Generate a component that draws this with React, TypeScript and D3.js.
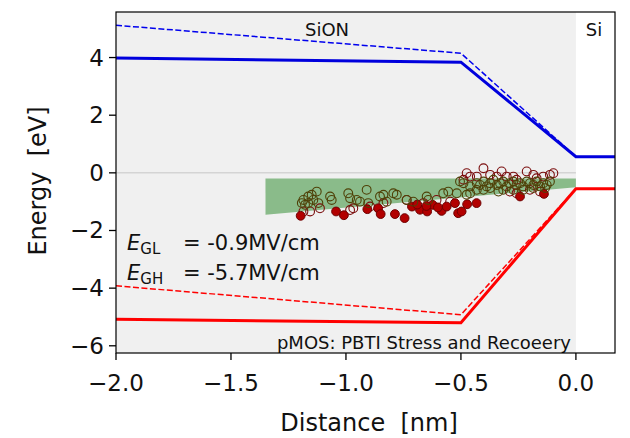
import React from "react";
import * as d3 from "d3";

const xTicks = [-2.0, -1.5, -1.0, -0.5, 0.0];
const yTicks = [4, 2, 0, -2, -4, -6];

// band-edge lines [x, energy]
const cbSolid: [number, number][] = [[-2, 3.98], [-0.5, 3.84], [0, 0.56], [0.17, 0.56]];
const cbDashed: [number, number][] = [[-2, 5.12], [-0.5, 4.15], [0, 0.56]];
const vbSolid: [number, number][] = [[-2, -5.08], [-0.5, -5.2], [0, -0.55], [0.17, -0.55]];
const vbDashed: [number, number][] = [[-2, -3.92], [-0.5, -4.92], [0, -0.55]];

// green trap band polygon
const bandX = [-1.35, 0, 0, -1.35];
const bandY = [-0.2, -0.2, -0.5, -1.45];

// open circles, maroon edge
const maroonX = [-0.475, -0.46, -0.402, -0.373, -0.344, -0.323, -0.301, -0.272, -0.258, -0.214, -0.185, -0.171, -0.142, -0.113, -0.098, -0.489, -0.431, -1.185, -1.156, -1.113, -0.982, -0.968, -0.895, -0.837, -0.736, -0.663, -0.606, -0.547, -0.287, -0.258, -0.2, -0.156];
const maroonY = [-0.01, -0.13, 0.16, -0.07, -0.13, 0.05, -0.13, -0.13, -0.24, 0.05, -0.07, -0.19, -0.13, -0.07, -0.01, -0.24, -0.13, -1.34, -1.34, -1.23, -1.29, -1.23, -1.17, -1.05, -0.94, -1.05, -0.94, -1.0, -0.65, -0.71, -0.59, -0.65];

// filled red circles
const redX = [-1.197, -1.043, -1.009, -0.907, -0.86, -0.849, -0.787, -0.745, -0.713, -0.678, -0.647, -0.623, -0.584, -0.562, -0.526, -0.512, -0.497, -0.473, -0.432, -0.243, -0.139, -0.69, -0.6, -0.65];
const redY = [-1.49, -1.34, -1.47, -1.26, -1.23, -1.43, -1.43, -1.57, -1.17, -1.28, -1.34, -1.11, -1.32, -1.17, -1.05, -1.4, -1.34, -1.09, -1.05, -0.82, -0.73, -1.1, -1.2, -1.15];

// open circles, olive edge
const oliveX = [-1.185, -1.178, -1.164, -1.149, -1.142, -1.127, -1.12, -1.164, -1.192, -1.069, -1.062, -0.99, -0.982, -0.953, -0.939, -0.91, -0.903, -0.852, -0.837, -0.823, -0.794, -0.779, -0.736, -0.707, -0.649, -0.642, -0.577, -0.555, -0.518, -0.489, -0.475, -0.46, -0.431, -0.417, -0.402, -0.388, -0.373, -0.359, -0.344, -0.33, -0.316, -0.301, -0.287, -0.272, -0.258, -0.243, -0.229, -0.214, -0.2, -0.185, -0.171, -0.156, -0.142, -0.127, -0.113, -0.46, -0.431, -0.402, -0.373, -0.337, -0.316, -0.272, -0.229, -0.185, -0.134, -0.504];
const oliveY = [-0.94, -1.11, -0.82, -0.76, -0.94, -0.65, -1.05, -1.05, -1.05, -0.82, -0.94, -0.71, -0.88, -0.94, -1.0, -0.59, -1.05, -0.82, -0.76, -1.0, -0.71, -0.76, -0.94, -1.0, -0.82, -0.94, -0.71, -0.65, -0.71, -0.36, -0.76, -0.71, -0.36, -0.42, -0.3, -0.47, -0.36, -0.24, -0.42, -0.36, -0.3, -0.47, -0.36, -0.3, -0.42, -0.36, -0.47, -0.3, -0.36, -0.42, -0.3, -0.47, -0.36, -0.42, -0.3, -0.47, -0.59, -0.59, -0.53, -0.65, -0.59, -0.59, -0.59, -0.53, -0.53, -0.3];

const W = 630, H = 438;
const L = 116, R = 615, T = 12, B = 353;
const FONT = "DejaVu Sans, sans-serif";

export default function App() {
  const x = d3.scaleLinear().domain([-2, 0.17]).range([L, R]);
  const y = d3.scaleLinear().domain([-6.25, 5.58]).range([B, T]);
  const line = d3.line<[number, number]>().x(d => x(d[0])).y(d => y(d[1]));
  const band = bandX.map((v, i) => [v, bandY[i]] as [number, number]);

  return (
    <svg width={W} height={H} style={{ position: "absolute", left: 0, top: 0, background: "#fff" }} fontFamily={FONT}>
      <defs>
        <clipPath id="clip"><rect x={L} y={T} width={R - L} height={B - T} /></clipPath>
      </defs>
      <g clipPath="url(#clip)">
        <rect x={x(-2)} y={T} width={x(0) - x(-2)} height={B - T} fill="#f0f0f0" />
        <line x1={x(-2)} x2={x(0)} y1={y(0)} y2={y(0)} stroke="#d4d4d4" strokeWidth={1.5} />
        <path d={line(band) + "Z"} fill="#8abb8a" />
        <path d={line(cbDashed)!} fill="none" stroke="#0000ee" strokeWidth={1.5} strokeDasharray="6,2.5" />
        <path d={line(cbSolid)!} fill="none" stroke="#0000dd" strokeWidth={3} />
        <path d={line(vbDashed)!} fill="none" stroke="#ff0000" strokeWidth={1.5} strokeDasharray="6,2.5" />
        <path d={line(vbSolid)!} fill="none" stroke="#ff0000" strokeWidth={3} />
        {maroonX.map((v, i) => (
          <circle key={"m" + i} cx={x(v)} cy={y(maroonY[i])} r={4.4} fill="none" stroke="#7a0c0c" strokeWidth={1.1} />
        ))}
        {redX.map((v, i) => (
          <circle key={"r" + i} cx={x(v)} cy={y(redY[i])} r={4.4} fill="#b20000" stroke="#6e0000" strokeWidth={1} />
        ))}
        {oliveX.map((v, i) => (
          <circle key={"o" + i} cx={x(v)} cy={y(oliveY[i])} r={4.4} fill="none" stroke="#4f4108" strokeWidth={1.1} />
        ))}
      </g>
      <text x={327} y={36} fontSize={18} textAnchor="middle" fill="#111">SiON</text>
      <text x={594} y={36} fontSize={18} textAnchor="middle" fill="#111">Si</text>
      <text x={571} y={349} fontSize={18} textAnchor="end" fill="#111">pMOS: PBTI Stress and Recoeery</text>
      <text x={127} y={250} fontSize={21} fill="#111">
        <tspan fontStyle="italic">E</tspan>
        <tspan fontSize={15} dy={4}>GL</tspan>
        <tspan x={183} dy={-4}>= -0.9MV/cm</tspan>
      </text>
      <text x={127} y={280} fontSize={21} fill="#111">
        <tspan fontStyle="italic">E</tspan>
        <tspan fontSize={15} dy={4}>GH</tspan>
        <tspan x={183} dy={-4}>= -5.7MV/cm</tspan>
      </text>
      <rect x={L} y={T} width={R - L} height={B - T} fill="none" stroke="#000" strokeWidth={1.2} />
      {xTicks.map(t => (
        <g key={"xt" + t}>
          <line x1={x(t)} x2={x(t)} y1={B} y2={B + 7} stroke="#000" strokeWidth={1.3} />
          <text x={x(t)} y={391} fontSize={23} textAnchor="middle" fill="#111">{d3.format(".1f")(t).replace("-", "\u2212")}</text>
        </g>
      ))}
      {yTicks.map(t => (
        <g key={"yt" + t}>
          <line x1={L - 7} x2={L} y1={y(t)} y2={y(t)} stroke="#000" strokeWidth={1.3} />
          <text x={104} y={y(t) + 8} fontSize={23} textAnchor="end" fill="#111">{String(t).replace("-", "\u2212")}</text>
        </g>
      ))}
      <text x={369} y={431} fontSize={24} textAnchor="middle" fill="#111" style={{ whiteSpace: "pre" }}>Distance  [nm]</text>
      <text transform={`translate(46,181) rotate(-90)`} fontSize={24} textAnchor="middle" fill="#111" style={{ whiteSpace: "pre" }}>Energy  [eV]</text>
    </svg>
  );
}
